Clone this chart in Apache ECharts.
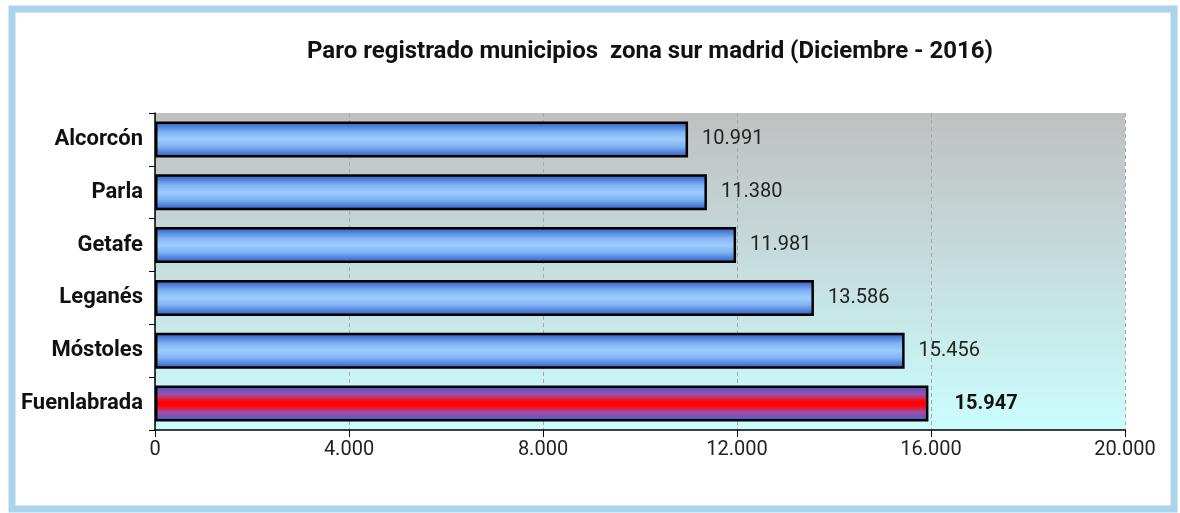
<!DOCTYPE html>
<html lang="es">
<head>
    <meta charset="UTF-8">
    <title>paro zona sur</title>
    <script src="https://cdn.jsdelivr.net/npm/echarts@6/dist/echarts.min.js"></script>
    <style>
        html, body { margin: 0; padding: 0; background: #fff; }
    </style>
</head>
<body>
<div id="main" style="width: 1180px;height:513px;"></div>
</body>

<script type="text/javascript">

    var municipios = ['Alcorcón', 'Parla', 'Getafe', 'Leganés', 'Móstoles', 'Fuenlabrada'];
    var parados = [10991, 11380, 11981, 13586, 15456, 15947];
    var destacado = 'Fuenlabrada';
    var xTicks = [0, 4000, 8000, 12000, 16000, 20000];

    var FONT = 'Roboto, "Liberation Sans", sans-serif';

    // formato con punto de miles
    var fmt = function (v) {
        return String(v).replace(/\B(?=(\d{3})+(?!\d))/g, '.');
    };

    var azul = new echarts.graphic.LinearGradient(0, 0, 0, 1, [
        {offset: 0, color: '#2856c0'},
        {offset: 0.3, color: '#7fb3f3'},
        {offset: 0.5, color: '#9dcdff'},
        {offset: 0.7, color: '#7fb3f3'},
        {offset: 1, color: '#2856c0'}
    ]);
    var rojo = new echarts.graphic.LinearGradient(0, 0, 0, 1, [
        {offset: 0, color: '#3a5ad2'},
        {offset: 0.25, color: '#a050a8'},
        {offset: 0.45, color: '#ff0000'},
        {offset: 0.55, color: '#ff0000'},
        {offset: 0.75, color: '#a050a8'},
        {offset: 1, color: '#3a5ad2'}
    ]);

    var seriesData = [];
    for (var i = 0; i < municipios.length; i++) {
        var isMain = municipios[i] === destacado;
        seriesData.push({
            value: parados[i],
            itemStyle: {color: isMain ? rojo : azul},
            label: isMain ? {fontWeight: 'bold', fontSize: 20, distance: 26, color: '#111'} : {}
        });
    }

    var option = {
        backgroundColor: '#fff',
        animation: false,
        title: {
            text: 'Paro registrado municipios  zona sur madrid (Diciembre - 2016)',
            left: 645,
            textAlign: 'center',
            top: 35,
            textStyle: {
                fontFamily: FONT,
                fontSize: 24,
                fontWeight: 'bold',
                color: '#111'
            }
        },
        graphic: [{
            type: 'rect',
            shape: {x: 12, y: 9, width: 1162, height: 500},
            style: {fill: 'none', stroke: '#a9d4ec', lineWidth: 7},
            z: 100
        }],
        grid: {
            left: 155,
            right: 55,
            top: 113,
            bottom: 83,
            show: true,
            borderWidth: 0,
            backgroundColor: new echarts.graphic.LinearGradient(0, 0, 0, 1, [
                {offset: 0, color: '#c0c0c0'},
                {offset: 1, color: '#ccfdfd'}
            ])
        },
        xAxis: {
            type: 'value',
            min: xTicks[0],
            max: xTicks[xTicks.length - 1],
            interval: xTicks[1] - xTicks[0],
            axisLine: {show: true, lineStyle: {color: '#000', width: 1.5}},
            axisTick: {show: true, length: 7, lineStyle: {color: '#000'}},
            splitLine: {show: true, lineStyle: {color: '#a8a8a8', type: [4, 3]}},
            axisLabel: {
                fontFamily: FONT,
                fontSize: 20,
                color: '#222',
                margin: 10,
                formatter: fmt
            }
        },
        yAxis: {
            type: 'category',
            inverse: true,
            data: municipios,
            axisLine: {show: true, lineStyle: {color: '#000', width: 1.5}},
            axisTick: {show: true, length: 6, lineStyle: {color: '#000'}},
            axisLabel: {
                fontFamily: FONT,
                fontSize: 22,
                fontWeight: 'bold',
                color: '#111',
                margin: 12
            }
        },
        series: [
            {
                name: 'Paro',
                type: 'bar',
                data: seriesData,
                barCategoryGap: '32%',
                itemStyle: {borderColor: '#000', borderWidth: 2.5},
                label: {
                    show: true,
                    position: 'right',
                    distance: 14,
                    fontFamily: FONT,
                    fontSize: 20,
                    color: '#222',
                    formatter: function (p) {
                        return fmt(p.value);
                    }
                }
            }
        ]
    };

    var myChart = echarts.init(document.getElementById('main'));
    myChart.setOption(option);

</script>
</html>
